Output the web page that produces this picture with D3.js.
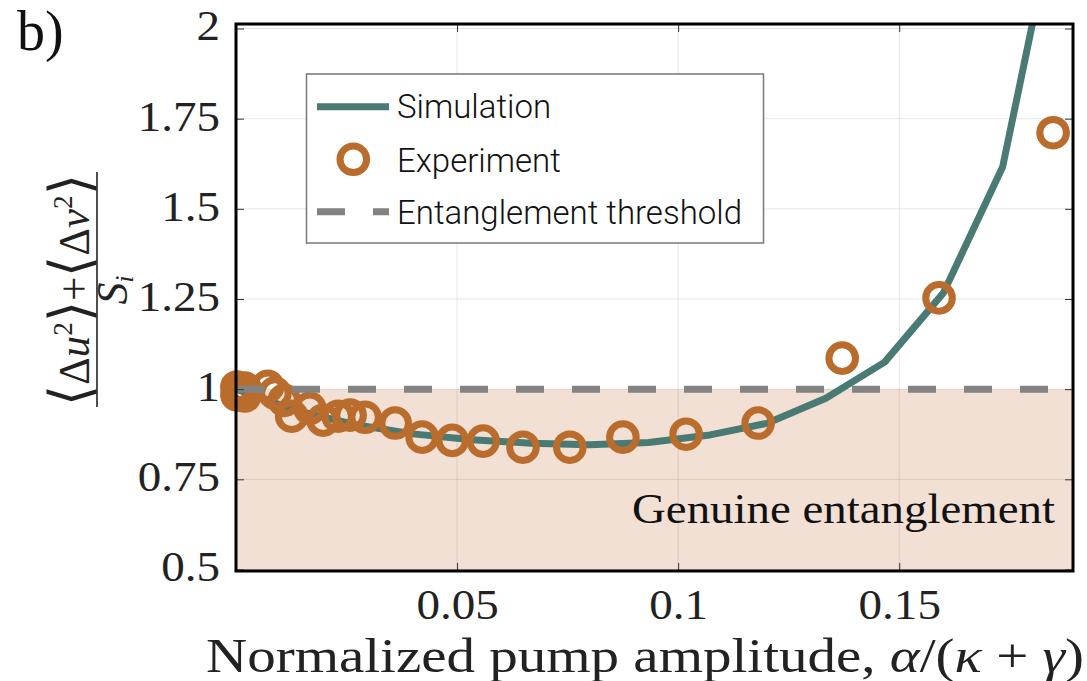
<!DOCTYPE html>
<html>
<head>
<meta charset="utf-8">
<script src="https://cdn.jsdelivr.net/npm/d3@7"></script>
<style>
  html, body { margin: 0; padding: 0; background: #fff; }
  svg { display: block; }
</style>
</head>
<body>
<svg id="chart" width="1087" height="681"></svg>
<script>
// ---------------- data ----------------
const simX = [0, 0.0133, 0.0267, 0.04, 0.0533, 0.0667, 0.08, 0.0933, 0.1067, 0.12, 0.1334, 0.1467, 0.16, 0.1734, 0.1867];
const simY = [1.0, 0.942, 0.902, 0.876, 0.86, 0.85, 0.846, 0.852, 0.872, 0.905, 0.975, 1.075, 1.267, 1.617, 2.40];

const expX = [0.0002, 0.0002, 0.0011, 0.002, 0.002, 0.0072, 0.0088, 0.0109, 0.0126, 0.0167, 0.0197, 0.0231, 0.0258, 0.0292, 0.036, 0.0421, 0.0489, 0.0559, 0.0649, 0.0755, 0.0875, 0.1018, 0.1181, 0.1371, 0.159, 0.1848];
const expY = [1.006, 0.984, 0.995, 1.003, 0.981, 1.008, 0.989, 0.969, 0.925, 0.947, 0.914, 0.925, 0.928, 0.922, 0.906, 0.867, 0.858, 0.856, 0.839, 0.839, 0.867, 0.875, 0.906, 1.086, 1.253, 1.711];

const threshold = 1.0;
const xLimits = [0, 0.1893];
const yLimits = [0.4958, 2.0125];
const xTicks = [0.05, 0.1, 0.15];
const xTickLabels = ["0.05", "0.1", "0.15"];
const yTicks = [0.5, 0.75, 1, 1.25, 1.5, 1.75, 2];
const yTickLabels = ["0.5", "0.75", "1", "1.25", "1.5", "1.75", "2"];
const legendLabels = ["Simulation", "Experiment", "Entanglement threshold"];
const regionLabel = "Genuine entanglement";
const panelLabel = "b)";

// ---------------- styles ----------------
const colLine = "#4a7a74";
const colMarker = "#b96c2c";
const colThresh = "#838383";
const colShade = "#f2e0d5";
const serif = "'Liberation Serif', 'DejaVu Serif', serif";
const sans = "Roboto, 'Liberation Sans', Arial, sans-serif";

const svg = d3.select("#chart");
const L = 236, R = 1073, T = 24, B = 571;
const x = d3.scaleLinear().domain(xLimits).range([L, R]);
const y = d3.scaleLinear().domain(yLimits).range([B, T]);

function widen(sel, f) {
  sel.each(function () {
    const w = this.getComputedTextLength();
    d3.select(this).attr("textLength", w * f).attr("lengthAdjust", "spacingAndGlyphs");
  });
}

svg.append("defs").append("clipPath").attr("id", "plotclip")
  .append("rect").attr("x", L).attr("y", T).attr("width", R - L).attr("height", B - T);

// shaded region (below threshold)
svg.append("rect")
  .attr("x", x(xLimits[0])).attr("y", y(threshold))
  .attr("width", x(xLimits[1]) - x(xLimits[0]))
  .attr("height", y(yLimits[0]) - y(threshold))
  .attr("fill", colShade);

// grid
const grid = svg.append("g").attr("stroke", "#000").attr("stroke-opacity", 0.1).attr("stroke-width", 1);
grid.selectAll("line.gx").data(xTicks).join("line")
  .attr("x1", d => x(d)).attr("x2", d => x(d)).attr("y1", T).attr("y2", B);
grid.selectAll("line.gy").data(yTicks).join("line")
  .attr("x1", L).attr("x2", R).attr("y1", d => y(d)).attr("y2", d => y(d));

// region label
svg.append("text")
  .attr("x", 632).attr("y", 523)
  .attr("font-family", serif).attr("font-size", 42)
  .attr("textLength", 423).attr("lengthAdjust", "spacingAndGlyphs")
  .attr("fill", "#111")
  .text(regionLabel);

// simulation line
const simData = simX.map((v, i) => [v, simY[i]]);
svg.append("path")
  .datum(simData)
  .attr("clip-path", "url(#plotclip)")
  .attr("d", d3.line().x(d => x(d[0])).y(d => y(d[1])))
  .attr("fill", "none").attr("stroke", colLine).attr("stroke-width", 7)
  .attr("stroke-linejoin", "round");

// experiment markers
const expData = expX.map((v, i) => [v, expY[i]]);
svg.append("g").selectAll("circle").data(expData).join("circle")
  .attr("cx", d => x(d[0])).attr("cy", d => y(d[1])).attr("r", 13.3)
  .attr("fill", "none").attr("stroke", colMarker).attr("stroke-width", 7);

// threshold
svg.append("line")
  .attr("x1", x(xLimits[0])).attr("x2", x(xLimits[1]))
  .attr("y1", y(threshold)).attr("y2", y(threshold))
  .attr("stroke", colThresh).attr("stroke-width", 7)
  .attr("stroke-dasharray", "28,28");

// axes (ticks inward)
const xAxis = svg.append("g").attr("transform", `translate(0,${B})`)
  .call(d3.axisBottom(x).tickValues(xTicks).tickFormat((d, i) => xTickLabels[i]).tickSizeInner(-8).tickSizeOuter(0).tickPadding(20));
const xAxisTop = svg.append("g").attr("transform", `translate(0,${T})`)
  .call(d3.axisTop(x).tickValues(xTicks).tickFormat("").tickSizeInner(-8).tickSizeOuter(0));
const yAxis = svg.append("g").attr("transform", `translate(${L},0)`)
  .call(d3.axisLeft(y).tickValues(yTicks).tickFormat((d, i) => yTickLabels[i]).tickSizeInner(-8).tickSizeOuter(0).tickPadding(16));
const yAxisRight = svg.append("g").attr("transform", `translate(${R},0)`)
  .call(d3.axisRight(y).tickValues(yTicks).tickFormat("").tickSizeInner(-8).tickSizeOuter(0));
[xAxis, xAxisTop, yAxis, yAxisRight].forEach(a => {
  a.select(".domain").remove();
  a.selectAll(".tick line").attr("stroke", "#333").attr("stroke-width", 1);
  a.selectAll("text").attr("font-family", serif).attr("font-size", 42).attr("fill", "#222");
});
xAxis.selectAll("text").attr("dy", "0.66em");
yAxis.selectAll("text").attr("dy", "0.27em");
widen(xAxis.selectAll("text"), 1.12);
widen(yAxis.selectAll("text"), 1.12);

// frame
svg.append("rect").attr("x", L).attr("y", T).attr("width", R - L).attr("height", B - T)
  .attr("fill", "none").attr("stroke", "#000").attr("stroke-width", 3);

// legend
const lg = svg.append("g");
lg.append("rect").attr("x", 306.5).attr("y", 74).attr("width", 457).attr("height", 169)
  .attr("fill", "#fff").attr("stroke", "#777").attr("stroke-width", 1.5);
lg.append("line").attr("x1", 317).attr("x2", 389).attr("y1", 106.7).attr("y2", 106.7)
  .attr("stroke", colLine).attr("stroke-width", 7);
lg.append("circle").attr("cx", 353.3).attr("cy", 159.3).attr("r", 13.3)
  .attr("fill", "none").attr("stroke", colMarker).attr("stroke-width", 7);
lg.append("line").attr("x1", 317).attr("x2", 389).attr("y1", 211.7).attr("y2", 211.7)
  .attr("stroke", colThresh).attr("stroke-width", 7).attr("stroke-dasharray", "28,28");
const lgY = [118, 171.5, 224];
lg.selectAll("text").data(legendLabels).join("text")
  .attr("x", 397).attr("y", (d, i) => lgY[i])
  .attr("font-family", sans).attr("font-weight", 300).attr("font-size", 33).attr("fill", "#111")
  .text(d => d);

// panel label
svg.append("text").attr("x", 17).attr("y", 50)
  .attr("font-family", serif).attr("font-size", 56).attr("fill", "#111").text(panelLabel);

// x label
const xl = svg.append("text").attr("x", 645).attr("y", 672).attr("text-anchor", "middle")
  .attr("font-family", serif).attr("font-size", 48).attr("fill", "#222");
xl.append("tspan").text("Normalized pump amplitude, ");
xl.append("tspan").attr("font-style", "italic").text("α");
xl.append("tspan").text("/(");
xl.append("tspan").attr("font-style", "italic").text("κ");
xl.append("tspan").text(" + ");
xl.append("tspan").attr("font-style", "italic").text("γ");
xl.append("tspan").text(")");
xl.attr("textLength", 878).attr("lengthAdjust", "spacingAndGlyphs");

// y label as fraction
const yl = svg.append("g").attr("transform", "translate(0,290) rotate(-90)")
  .attr("font-family", serif).attr("fill", "#222");
const num = yl.append("text").attr("x", 0).attr("y", 89).attr("text-anchor", "middle").attr("font-size", 44);
const addBr = (t, ch) => t.append("tspan").attr("font-size", 56).attr("font-family", "'DejaVu Sans', sans-serif").attr("font-weight", 200).text(ch);
addBr(num, "⟨");
num.append("tspan").text("Δ");
num.append("tspan").attr("font-style", "italic").text("u");
num.append("tspan").attr("font-size", 28).attr("dy", -17).text("2");
addBr(num, "⟩").attr("dy", 17);
num.append("tspan").text("+");
addBr(num, "⟨");
num.append("tspan").text("Δ");
num.append("tspan").attr("font-style", "italic").text("v");
num.append("tspan").attr("font-size", 28).attr("dy", -17).text("2");
addBr(num, "⟩").attr("dy", 17);
num.attr("textLength", 232).attr("lengthAdjust", "spacingAndGlyphs");
yl.append("line").attr("x1", -117).attr("x2", 118).attr("y1", 97).attr("y2", 97)
  .attr("stroke", "#222").attr("stroke-width", 1.6);
const den = yl.append("text").attr("x", 0).attr("y", 127).attr("text-anchor", "middle").attr("font-size", 44);
den.append("tspan").attr("font-style", "italic").text("S");
den.append("tspan").attr("font-style", "italic").attr("font-size", 26).attr("dy", 6).text("i");
</script>
</body>
</html>
